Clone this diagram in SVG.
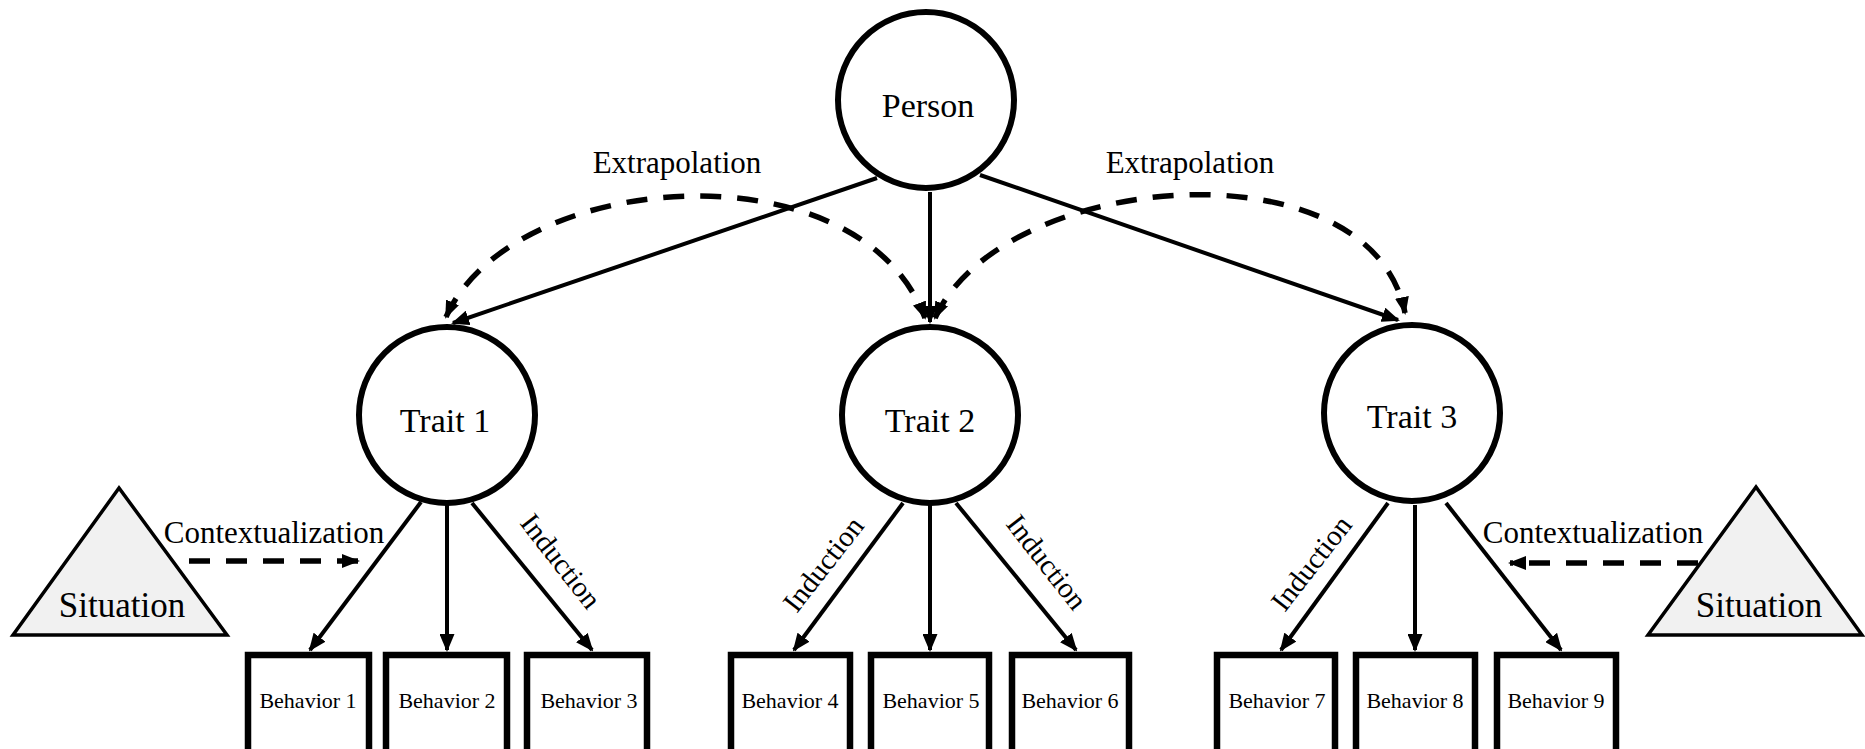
<svg xmlns="http://www.w3.org/2000/svg" width="1865" height="749" viewBox="0 0 1865 749">
<defs>
<marker id="ah" markerUnits="userSpaceOnUse" markerWidth="18" markerHeight="15" refX="16" refY="7.5" orient="auto-start-reverse" viewBox="0 0 18 15">
<path d="M0,0 L18,7.5 L0,15 Z" fill="#000"/>
</marker>
<marker id="ahd" markerUnits="userSpaceOnUse" markerWidth="18" markerHeight="14" refX="16" refY="7" orient="auto-start-reverse" viewBox="0 0 18 14">
<path d="M0,0 L18,7 L0,14 Z" fill="#000"/>
</marker>
</defs>
<style>
.t{font-family:"Liberation Serif","Times New Roman",serif;fill:#000;text-anchor:middle}
.big{font-size:34px}
.lab{font-size:31px}
.ind{font-size:29px}
.beh{font-size:22px}
.sit{font-size:35px}
.circ{fill:#fff;stroke:#000;stroke-width:6}
.box{fill:#fff;stroke:#000;stroke-width:6.5}
.tri{fill:#f1f1f1;stroke:#000;stroke-width:3.5;stroke-linejoin:miter}
.solid{fill:none;stroke:#000;stroke-width:4;marker-end:url(#ah)}
.dash{fill:none;stroke:#000;stroke-width:5.5;stroke-dasharray:21 16}
</style>
<rect width="1865" height="749" fill="#fff"/>

<g id="connectors">
<line class="solid" x1="877" y1="178" x2="453" y2="323"/>
<line class="solid" x1="930" y1="192" x2="930" y2="322"/>
<line class="solid" x1="980" y1="175" x2="1398" y2="320"/>
<path class="dash" d="M446,317 C512,168.5 860,143 925,318" marker-start="url(#ahd)" marker-end="url(#ahd)"/>
<path class="dash" d="M935,318 C1002.5,169.5 1371.4,140.2 1405,313" marker-start="url(#ahd)" marker-end="url(#ahd)"/>
<line class="solid" x1="421" y1="502" x2="310" y2="650"/>
<line class="solid" x1="447" y1="505" x2="447" y2="650"/>
<line class="solid" x1="472" y1="503" x2="592" y2="650"/>
<line class="solid" x1="903" y1="503" x2="794" y2="650"/>
<line class="solid" x1="930" y1="505" x2="930" y2="650"/>
<line class="solid" x1="956" y1="503" x2="1076" y2="650"/>
<line class="solid" x1="1388" y1="503" x2="1281" y2="650"/>
<line class="solid" x1="1415" y1="505" x2="1415" y2="650"/>
<line class="solid" x1="1446" y1="503" x2="1561" y2="650"/>
<line class="dash" x1="189" y1="561" x2="358" y2="561" stroke-dasharray="21 17" marker-end="url(#ahd)"/>
<line class="dash" x1="1698" y1="563" x2="1510" y2="563" stroke-dasharray="21 17" marker-end="url(#ahd)"/>
<text class="t lab" x="677" y="173">Extrapolation</text>
<text class="t lab" x="1190" y="173">Extrapolation</text>
<text class="t lab" x="274" y="543">Contextualization</text>
<text class="t lab" x="1593" y="543">Contextualization</text>
<text class="t ind" transform="translate(561,561) rotate(52)" x="0" y="10">Induction</text>
<text class="t ind" transform="translate(823,564) rotate(-52)" x="0" y="10">Induction</text>
<text class="t ind" transform="translate(1047,562) rotate(52)" x="0" y="10">Induction</text>
<text class="t ind" transform="translate(1311,563) rotate(-52)" x="0" y="10">Induction</text>
</g>

<g id="person">
<circle class="circ" cx="926" cy="100" r="88"/>
<text class="t big" x="928" y="117">Person</text>
</g>
<g id="trait1">
<circle class="circ" cx="447" cy="415" r="88"/>
<text class="t big" x="445" y="432">Trait 1</text>
</g>
<g id="trait2">
<circle class="circ" cx="930" cy="415" r="88"/>
<text class="t big" x="930" y="432">Trait 2</text>
</g>
<g id="trait3">
<circle class="circ" cx="1412" cy="413" r="88"/>
<text class="t big" x="1412" y="428">Trait 3</text>
</g>

<g id="situation1">
<polygon class="tri" points="119,488 13,635 227,635"/>
<text class="t sit" x="122" y="617">Situation</text>
</g>
<g id="situation2">
<polygon class="tri" points="1756,487 1648,635 1862,635"/>
<text class="t sit" x="1759" y="617">Situation</text>
</g>

<g id="behavior1"><rect class="box" x="248" y="655" width="121" height="110"/><text class="t beh" x="308" y="708">Behavior 1</text></g>
<g id="behavior2"><rect class="box" x="386" y="655" width="121" height="110"/><text class="t beh" x="447" y="708">Behavior 2</text></g>
<g id="behavior3"><rect class="box" x="527" y="655" width="120" height="110"/><text class="t beh" x="589" y="708">Behavior 3</text></g>
<g id="behavior4"><rect class="box" x="731" y="655" width="119" height="110"/><text class="t beh" x="790" y="708">Behavior 4</text></g>
<g id="behavior5"><rect class="box" x="871" y="655" width="118" height="110"/><text class="t beh" x="931" y="708">Behavior 5</text></g>
<g id="behavior6"><rect class="box" x="1012" y="655" width="117" height="110"/><text class="t beh" x="1070" y="708">Behavior 6</text></g>
<g id="behavior7"><rect class="box" x="1217" y="655" width="118" height="110"/><text class="t beh" x="1277" y="708">Behavior 7</text></g>
<g id="behavior8"><rect class="box" x="1356" y="655" width="119" height="110"/><text class="t beh" x="1415" y="708">Behavior 8</text></g>
<g id="behavior9"><rect class="box" x="1497" y="655" width="119" height="110"/><text class="t beh" x="1556" y="708">Behavior 9</text></g>
</svg>
